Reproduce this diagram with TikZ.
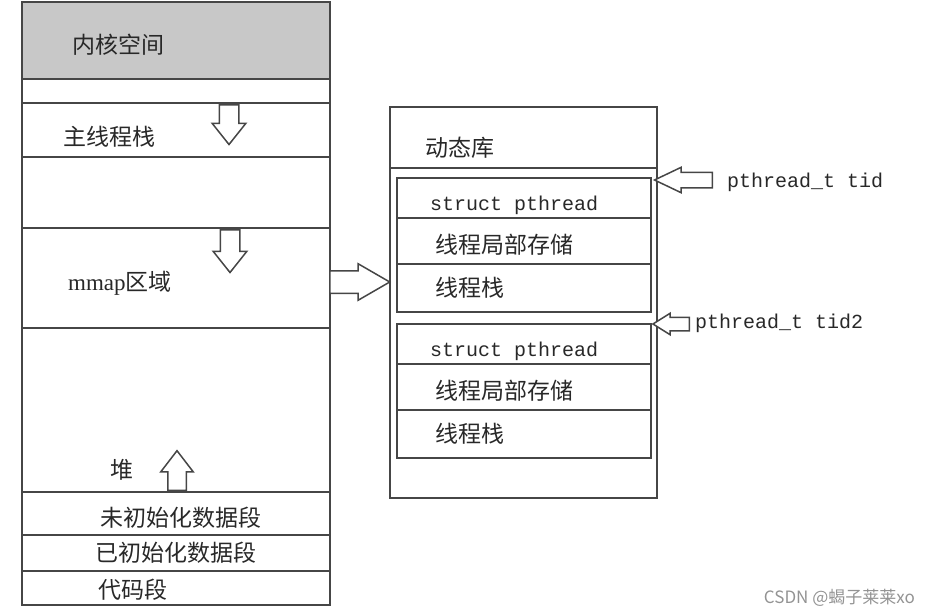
\documentclass[tikz,border=0pt]{standalone}
\usepackage{fontspec}
\setmainfont{Noto Sans CJK SC}
\newfontfamily\codefont{Liberation Mono}
\newfontfamily\latinfont{Liberation Serif}
\usetikzlibrary{shapes.arrows, positioning}
\definecolor{ink}{RGB}{70, 70, 70}
\definecolor{kernelgray}{RGB}{200, 200, 200}
\definecolor{txt}{RGB}{40, 40, 40}

\begin{document}
\begin{tikzpicture}[x=1pt, y=-1pt,
            frame/.style={draw=ink, line width=1.8pt},
            label/.style={anchor=west, inner sep=0pt, text=txt, font=\fontsize{23}{23}\selectfont},
            code/.style={anchor=west, inner sep=0pt, text=txt, font=\codefont\fontsize{20}{20}\selectfont},
            blockarrow/.style={single arrow, draw=ink, fill=white, line width=1.5pt, anchor=tail, inner xsep=13pt, inner ysep=9pt, single arrow head extend=7pt, single arrow tip angle=77}
        ]
            \useasboundingbox (0,0) rectangle (930,616);

            % process address space
            \fill[kernelgray] (22,2) rectangle (330,79);
            \draw[frame] (22,2) rectangle (330,605);
            \foreach \y in {79, 103, 157, 228, 328, 492, 535, 571}
                \draw[frame] (22,\y) -- (330,\y);

            \node[label] (kernel) at (72,45) {内核空间};
            \node[label] (mainstack) at (63,137) {主线程栈};
            \node[label] (mmap) at (68,283) {{\latinfont mmap}区域};
            \node[label] (heap) at (110,470) {堆};
            \node[label] (bss) at (100,518) {未初始化数据段};
            \node[label] (data) at (95,553) {已初始化数据段};
            \node[label] (textseg) at (98,590) {代码段};

            \node[blockarrow, rotate=-90] (stackdown) at (229,104) {};
            \node[blockarrow, rotate=-90, inner xsep=14.5pt] (mmapdown) at (230,229) {};
            \node[blockarrow, rotate=90, inner ysep=8.5pt, single arrow tip angle=75] (heapup) at (177,491) {};

            % dynamic library
            \draw[frame] (390,107) rectangle (657,498);
            \draw[frame] (390,168) -- (657,168);
            \node[label] (dynlib) at (425,148) {动态库};

            \foreach \t/\dy in {1/0, 2/146} {
                \draw[frame] (397,178+\dy) rectangle (651,312+\dy);
                \draw[frame] (397,218+\dy) -- (651,218+\dy);
                \draw[frame] (397,264+\dy) -- (651,264+\dy);
                \node[code] (pthread\t) at (430,205+\dy) {struct pthread};
                \node[label] (tls\t) at (435,245+\dy) {线程局部存储};
                \node[label] (tstack\t) at (435,288+\dy) {线程栈};
            }

            \node[blockarrow, inner xsep=19.5pt, inner ysep=10.5pt, single arrow tip angle=60] (todyn) at (329,282) {};
            \node[blockarrow, rotate=180, inner xsep=20pt, inner ysep=7pt, single arrow head extend=5pt, single arrow tip angle=51] (tidarrow) at (713,180) {};
            \node[blockarrow, rotate=180, inner xsep=12pt, inner ysep=6pt, single arrow head extend=4pt, single arrow tip angle=64] (tidarrow2) at (690,324) {};

            \node[code] (tid) at (727,182) {pthread\_t tid};
            \node[code] (tid2) at (695,323) {pthread\_t tid2};

            \node[anchor=east, inner sep=0pt, text=gray!85, font=\fontsize{17}{17}\selectfont] (mark) at (915,598) {CSDN @蝎子莱莱xo};
        \end{tikzpicture}
\end{document}
